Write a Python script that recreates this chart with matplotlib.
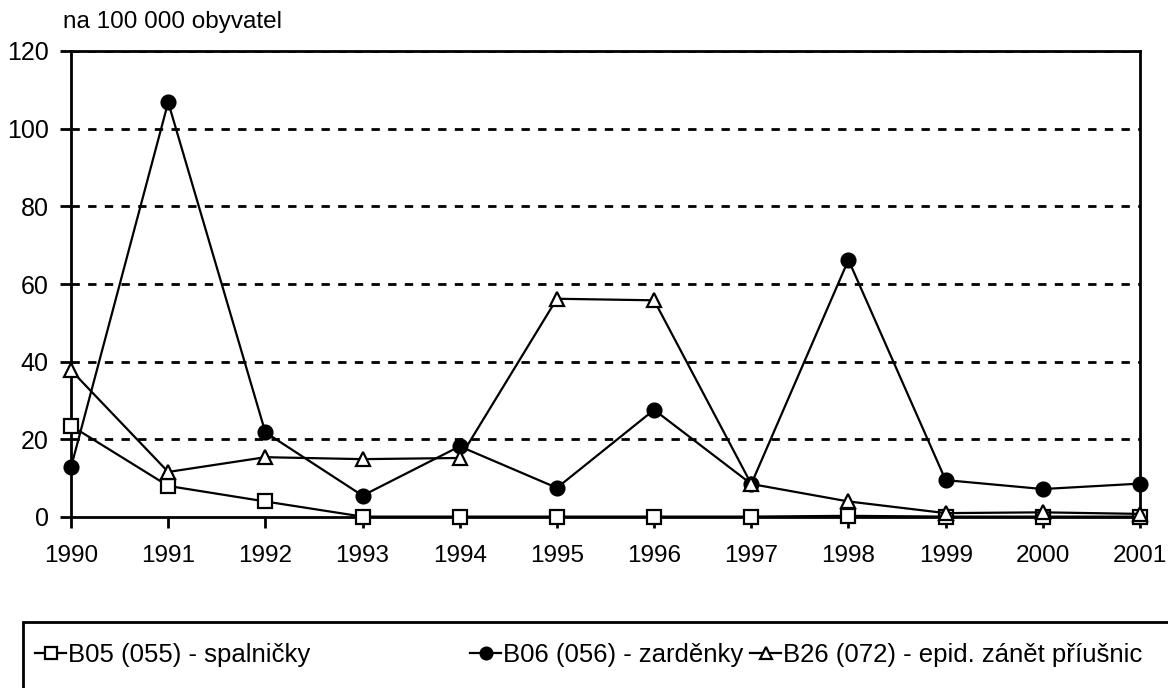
import numpy as np
import matplotlib.pyplot as plt
from matplotlib.patches import Rectangle

plt.rcParams['font.family'] = ['Liberation Sans', 'DejaVu Sans']

years = list(range(1990, 2002))
spalnicky = [23.5, 8.0, 4.0, 0.1, 0.1, 0.1, 0.1, 0.1, 0.3, 0.1, 0.1, 0.1]
zardenky = [12.8, 106.8, 21.8, 5.5, 18.2, 7.5, 27.6, 8.5, 66.2, 9.5, 7.2, 8.6]
priusnice = [37.8, 11.6, 15.4, 14.9, 15.2, 56.2, 55.8, 8.5, 4.0, 1.0, 1.2, 0.8]
labels = ['B05 (055) - spalničky', 'B06 (056) - zarděnky',
          'B26 (072) - epid. zánět příušnic']

fig = plt.figure(figsize=(11.68, 6.88), dpi=100)
ax = fig.add_axes([71 / 1168, 1 - 517 / 688, (1140 - 71) / 1168, (517 - 51) / 688])

ax.set_xlim(1990, 2001)
ax.set_ylim(0, 120)
ax.set_yticks(range(0, 121, 20))
ax.set_xticks(years)
for y in range(20, 121, 20):
    ax.axhline(y, color='black', lw=2, ls=(0, (3, 3)), zorder=1)

kw = dict(color='black', lw=1.6, markersize=10, markeredgewidth=1.6, clip_on=False, zorder=3)
h1, = ax.plot(years, spalnicky, marker='s', markerfacecolor='white', **kw)
h2, = ax.plot(years, zardenky, marker='o', markerfacecolor='black', **kw)
h3, = ax.plot(years, priusnice, marker='^', markerfacecolor='white', **kw)

for s in ax.spines.values():
    s.set_linewidth(2)
ax.tick_params(axis='both', labelsize=18, width=2, length=8, direction='out', color='black')
ax.tick_params(axis='x', labelsize=17.5, pad=12)
ax.tick_params(axis='y', pad=8)

fig.text(63 / 1168, 1 - 22 / 688, 'na 100 000 obyvatel', fontsize=17.5, va='center', ha='left')

fig.patches.append(Rectangle((23 / 1168, -0.1), 1.2, (688 - 622) / 688 + 0.1,
                             transform=fig.transFigure, fill=False, lw=2, ec='black'))

legend_x = [25 / 1168, 460 / 1168, 740 / 1168]
for h, lab, x in zip([h1, h2, h3], labels, legend_x):
    lg = fig.legend([h], [lab], loc='center left', bbox_to_anchor=(x, 1 - 655 / 688),
                    frameon=False, fontsize=18.5, handlelength=1.2, handletextpad=0.08,
                    markerscale=0.85, borderaxespad=0)

fig.savefig('out.png', dpi=100)
